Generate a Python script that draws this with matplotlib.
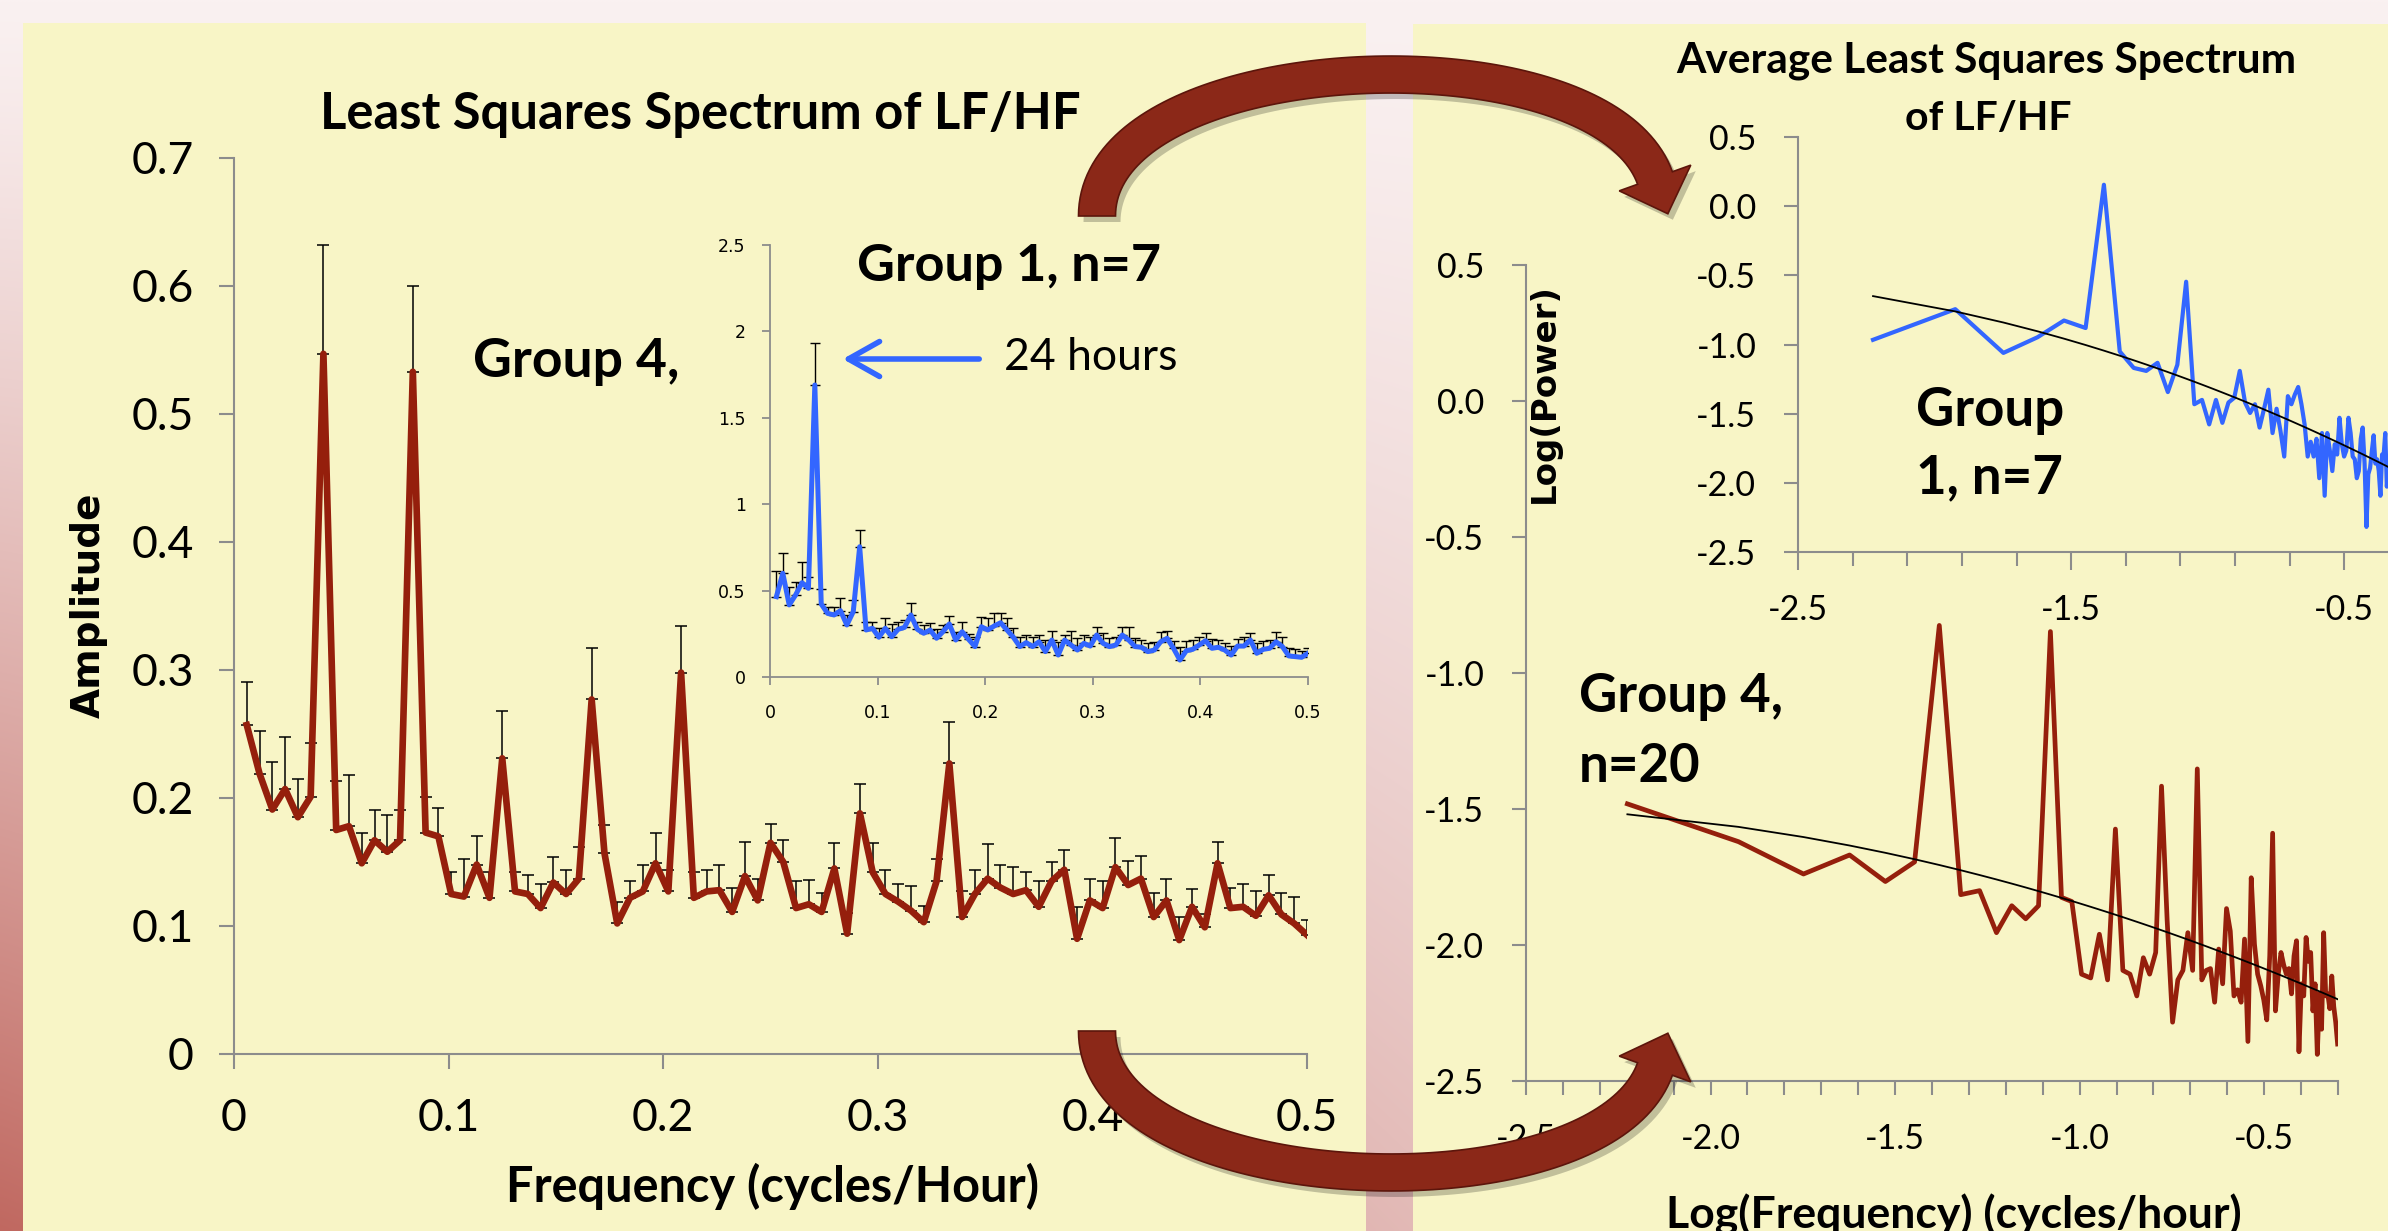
import numpy as np
import matplotlib
matplotlib.use("Agg")
import matplotlib.pyplot as plt
from matplotlib.patches import Rectangle, Polygon
from matplotlib.ticker import MultipleLocator, FixedLocator, FuncFormatter

plt.rcParams["font.family"] = ["Lato", "DejaVu Sans"]
plt.rcParams["axes.unicode_minus"] = False

W, H = 2388, 1231

# harmonics of a one-week hourly record: frequency = k/168 cycles/hour
harmonic = np.arange(1, 85)
freq = harmonic / 168.0

# Group 4 (n=20) mean amplitude and top of the error bar
g4_amp = [0.257, 0.219, 0.191, 0.207, 0.185, 0.201, 0.547, 0.175, 0.178, 0.149,
          0.167, 0.158, 0.167, 0.533, 0.173, 0.170, 0.125, 0.123, 0.148, 0.122,
          0.231, 0.127, 0.125, 0.114, 0.134, 0.125, 0.137, 0.277, 0.157, 0.102,
          0.122, 0.127, 0.149, 0.127, 0.298, 0.122, 0.127, 0.128, 0.111, 0.139,
          0.120, 0.165, 0.150, 0.114, 0.117, 0.111, 0.145, 0.094, 0.188, 0.142,
          0.125, 0.119, 0.112, 0.103, 0.135, 0.227, 0.107, 0.125, 0.137, 0.130,
          0.125, 0.128, 0.115, 0.135, 0.144, 0.090, 0.120, 0.114, 0.146, 0.132,
          0.137, 0.107, 0.120, 0.089, 0.115, 0.099, 0.149, 0.114, 0.115, 0.108,
          0.124, 0.109, 0.102, 0.093]
g4_upper = [0.291, 0.252, 0.228, 0.248, 0.215, 0.243, 0.632, 0.213, 0.218, 0.173,
            0.191, 0.187, 0.191, 0.600, 0.201, 0.192, 0.142, 0.152, 0.170, 0.142,
            0.268, 0.142, 0.140, 0.133, 0.154, 0.144, 0.162, 0.317, 0.179, 0.119,
            0.135, 0.148, 0.173, 0.144, 0.334, 0.142, 0.144, 0.148, 0.130, 0.166,
            0.137, 0.180, 0.167, 0.135, 0.136, 0.126, 0.165, 0.110, 0.211, 0.165,
            0.144, 0.133, 0.131, 0.116, 0.152, 0.259, 0.127, 0.144, 0.164, 0.148,
            0.146, 0.142, 0.135, 0.150, 0.159, 0.115, 0.137, 0.135, 0.169, 0.151,
            0.155, 0.126, 0.137, 0.107, 0.129, 0.109, 0.166, 0.130, 0.133, 0.127,
            0.140, 0.126, 0.123, 0.105]

# Group 1 (n=7) mean amplitude and top of the error bar
g1_amp = [0.465, 0.600, 0.417, 0.475, 0.546, 0.513, 1.690, 0.422, 0.368, 0.359,
          0.384, 0.301, 0.378, 0.754, 0.272, 0.282, 0.230, 0.282, 0.233, 0.276,
          0.287, 0.359, 0.276, 0.253, 0.272, 0.224, 0.262, 0.307, 0.214, 0.262,
          0.218, 0.176, 0.291, 0.272, 0.295, 0.314, 0.272, 0.230, 0.176, 0.199,
          0.176, 0.204, 0.147, 0.214, 0.127, 0.214, 0.185, 0.156, 0.195, 0.179,
          0.243, 0.195, 0.176, 0.185, 0.243, 0.214, 0.176, 0.172, 0.147, 0.156,
          0.204, 0.224, 0.166, 0.098, 0.152, 0.160, 0.185, 0.210, 0.166, 0.172,
          0.156, 0.127, 0.179, 0.179, 0.214, 0.137, 0.160, 0.166, 0.204, 0.176,
          0.122, 0.118, 0.114, 0.137]
g1_upper = [0.615, 0.716, 0.523, 0.550, 0.664, 0.581, 1.933, 0.509, 0.407, 0.403,
            0.455, 0.360, 0.446, 0.851, 0.320, 0.320, 0.282, 0.340, 0.307, 0.320,
            0.330, 0.430, 0.320, 0.301, 0.314, 0.275, 0.300, 0.353, 0.262, 0.320,
            0.250, 0.233, 0.345, 0.340, 0.368, 0.368, 0.340, 0.282, 0.230, 0.243,
            0.233, 0.243, 0.214, 0.266, 0.200, 0.243, 0.266, 0.224, 0.243, 0.230,
            0.291, 0.257, 0.224, 0.230, 0.291, 0.291, 0.224, 0.214, 0.195, 0.200,
            0.262, 0.268, 0.210, 0.176, 0.210, 0.214, 0.230, 0.257, 0.218, 0.214,
            0.199, 0.180, 0.220, 0.230, 0.257, 0.199, 0.210, 0.214, 0.262, 0.230,
            0.166, 0.160, 0.150, 0.170]

# quadratic trendlines (a, b, c) of log power vs log frequency
g1_trend = [-0.181, -1.119, -2.244]
g4_trend = [-0.123, -0.664, -2.388]

PANEL = "#f8f5c6"
RED = "#951f0c"
BLUE = "#3366ff"
SPINE = "#8c8c8c"


def frac(x0, y0, x1, y1):
    # pixel box (top-left origin) -> figure fraction rect
    return [x0 / W, 1 - y1 / H, (x1 - x0) / W, (y1 - y0) / H]


def style_axes(ax, size, length, pad_x, pad_y, lw=1.5):
    for s in ["top", "right"]:
        ax.spines[s].set_visible(False)
    for s in ["left", "bottom"]:
        ax.spines[s].set_color(SPINE)
        ax.spines[s].set_linewidth(lw)
    ax.patch.set_visible(False)
    ax.tick_params(which="both", direction="out", color=SPINE, width=lw, labelsize=size)
    ax.tick_params(axis="x", which="both", length=length, pad=pad_x)
    ax.tick_params(axis="y", which="both", length=length, pad=pad_y)


def curved_arrow(ax, pts, width, head_w, head_len, color):
    p0, p1, p2, p3 = [np.array(p, float) for p in pts]
    t = np.linspace(0, 1, 100)[:, None]
    c = (1 - t) ** 3 * p0 + 3 * (1 - t) ** 2 * t * p1 + 3 * (1 - t) * t ** 2 * p2 + t ** 3 * p3
    d = 3 * (1 - t) ** 2 * (p1 - p0) + 6 * (1 - t) * t * (p2 - p1) + 3 * t ** 2 * (p3 - p2)
    d /= np.linalg.norm(d, axis=1)[:, None]
    n = np.column_stack([-d[:, 1], d[:, 0]])
    left = c + n * width / 2
    right = c - n * width / 2
    tip = p3 + d[-1] * head_len
    hl = p3 + n[-1] * head_w / 2
    hr = p3 - n[-1] * head_w / 2
    poly = np.vstack([left, hl, tip, hr, right[::-1]])
    ax.add_patch(Polygon(poly + [5, 6], closed=True, facecolor="black", alpha=0.22, lw=0))
    ax.add_patch(Polygon(poly, closed=True, facecolor=color, edgecolor="#5c150b", lw=1.2))


fig = plt.figure(figsize=(W / 100, H / 100), dpi=100)

# background gradient + yellow panels
bg = fig.add_axes([0, 0, 1, 1], zorder=0)
yy, xx = np.mgrid[0:H:4, 0:W:4]
tt = np.clip((yy / H) ** 1.2 * (1 - xx / W), 0, 1)
c_top = np.array([250, 241, 241]) / 255
c_red = np.array([192, 104, 96]) / 255
bg.imshow(c_top + (c_red - c_top) * tt[..., None], extent=(0, W, H, 0),
          aspect="auto", interpolation="bilinear")
bg.add_patch(Rectangle((23, 23), 1366 - 23, H - 23, color=PANEL, lw=0))
bg.add_patch(Rectangle((1413, 24), W - 1413, H - 24, color=PANEL, lw=0))
bg.set_xlim(0, W)
bg.set_ylim(H, 0)
bg.axis("off")

plain = FuncFormatter(lambda v, p: f"{v:g}")
one_dec = FuncFormatter(lambda v, p: f"{v:.1f}")

# main panel: Group 4 amplitude spectrum
ax = fig.add_axes(frac(234, 158, 1307, 1054), zorder=2)
ax.errorbar(freq, g4_amp, yerr=[np.zeros(len(g4_amp)), np.array(g4_upper) - np.array(g4_amp)],
            fmt="none", ecolor="black", elinewidth=1.1, capsize=4.3, capthick=1.1, zorder=2)
ax.plot(freq, g4_amp, color=RED, lw=4.8, zorder=3)
ax.set_xlim(0, 0.5)
ax.set_ylim(0, 0.7)
ax.xaxis.set_major_locator(MultipleLocator(0.1))
ax.yaxis.set_major_locator(MultipleLocator(0.1))
ax.xaxis.set_major_formatter(plain)
ax.yaxis.set_major_formatter(plain)
style_axes(ax, 32, 11, 21, 18)

# inset: Group 1 amplitude spectrum
ins = fig.add_axes(frac(770, 245, 1308, 677), zorder=3)
ins.errorbar(freq, g1_amp, yerr=[np.zeros(len(g1_amp)), np.array(g1_upper) - np.array(g1_amp)],
             fmt="none", ecolor="black", elinewidth=1.0, capsize=3.6, capthick=1.0, zorder=2)
ins.plot(freq, g1_amp, color=BLUE, lw=3.6, zorder=3)
ins.set_xlim(0, 0.5)
ins.set_ylim(0, 2.5)
ins.xaxis.set_major_locator(MultipleLocator(0.1))
ins.yaxis.set_major_locator(MultipleLocator(0.5))
ins.xaxis.set_major_formatter(plain)
ins.yaxis.set_major_formatter(plain)
style_axes(ins, 12.5, 5.5, 14, 12, lw=1.3)
for lab in ins.get_xticklabels() + ins.get_yticklabels():
    lab.set_family("DejaVu Sans")

# right panels: same spectra as log10 power (A^2/2) against log10 frequency
log_f = np.log10(freq)
g1_logp = np.log10(np.array(g1_amp) ** 2 / 2)
g4_logp = np.log10(np.array(g4_amp) ** 2 / 2)

axb = fig.add_axes(frac(1526, 265, 2338, 1081), zorder=2)
axb.plot(log_f, g4_logp, color=RED, lw=3.4, zorder=3)
axb.plot(log_f, np.polyval(g4_trend, log_f), color="black", lw=1.3, zorder=4)
axb.set_xlim(-2.5, -0.3)
axb.set_ylim(-2.5, 0.5)
axb.xaxis.set_major_locator(MultipleLocator(0.5))
axb.xaxis.set_minor_locator(MultipleLocator(0.1))
axb.yaxis.set_major_locator(MultipleLocator(0.5))
axb.xaxis.set_major_formatter(one_dec)
axb.yaxis.set_major_formatter(one_dec)
style_axes(axb, 24.5, 10, 20, 20)

axt = fig.add_axes(frac(1798, 137, 2399, 552), zorder=3)
axt.plot(log_f, g1_logp, color=BLUE, lw=3.0, zorder=3)
axt.plot(log_f, np.polyval(g1_trend, log_f), color="black", lw=1.3, zorder=4)
axt.set_xlim(-2.5, -0.3)
axt.set_ylim(-2.5, 0.5)
axt.xaxis.set_major_locator(FixedLocator([-2.5, -1.5, -0.5]))
axt.xaxis.set_minor_locator(FixedLocator(np.arange(-2.5, -0.25, 0.2)))
axt.yaxis.set_major_locator(MultipleLocator(0.5))
axt.xaxis.set_major_formatter(one_dec)
axt.yaxis.set_major_formatter(one_dec)
style_axes(axt, 24.5, 10, 20, 20)
axt.tick_params(axis="x", which="major", length=13, pad=17)

# overlay for texts and the big arrows (pixel coordinates)
ov = fig.add_axes([0, 0, 1, 1], zorder=10)
ov.set_xlim(0, W)
ov.set_ylim(H, 0)
ov.axis("off")

ov.text(700, 129, "Least Squares Spectrum of LF/HF", ha="center", va="baseline",
        fontsize=36.5, fontweight="bold")
ov.text(89, 605, "Amplitude", rotation=90, ha="center", va="center",
        fontsize=28, fontweight="bold", family="DejaVu Sans")
ov.text(772, 1202, "Frequency (cycles/Hour)", ha="center", va="baseline",
        fontsize=35, fontweight="bold")
ov.text(473, 377, "Group 4,", ha="left", va="baseline", fontsize=38.5, fontweight="bold")
ov.text(857, 281, "Group 1, n=7", ha="left", va="baseline", fontsize=37.5, fontweight="bold")
ov.text(1004, 370, "24 hours", ha="left", va="baseline", fontsize=32)
ov.annotate("", xy=(840, 359), xytext=(982, 359),
            arrowprops=dict(arrowstyle="->,head_length=0.8,head_width=0.45",
                            color=BLUE, lw=4, mutation_scale=28))

ov.text(1986, 73, "Average Least Squares Spectrum", ha="center", va="baseline",
        fontsize=30.5, fontweight="bold")
ov.text(1988, 130, "of LF/HF", ha="center", va="baseline", fontsize=29.5, fontweight="bold")
ov.text(1916, 426, "Group", ha="left", va="baseline", fontsize=38, fontweight="bold")
ov.text(1916, 493, "1, n=7", ha="left", va="baseline", fontsize=38, fontweight="bold")
ov.text(1579, 712, "Group 4,", ha="left", va="baseline", fontsize=38, fontweight="bold")
ov.text(1579, 782, "n=20", ha="left", va="baseline", fontsize=38, fontweight="bold")
ov.text(1544, 393, "Log(Power)", rotation=90, ha="center", va="center",
        fontsize=24.5, fontweight="bold", family="DejaVu Sans")
ov.text(1954, 1228, "Log(Frequency) (cycles/hour)", ha="center", va="baseline",
        fontsize=32, fontweight="bold")

curved_arrow(ov, [(1097, 216), (1097, 45), (1600, 25), (1655, 178)], 37, 76, 38, "#8b2818")
curved_arrow(ov, [(1097, 1031), (1097, 1202), (1600, 1222), (1655, 1069)], 37, 76, 38, "#8b2818")

fig.savefig("out.png", dpi=100)
